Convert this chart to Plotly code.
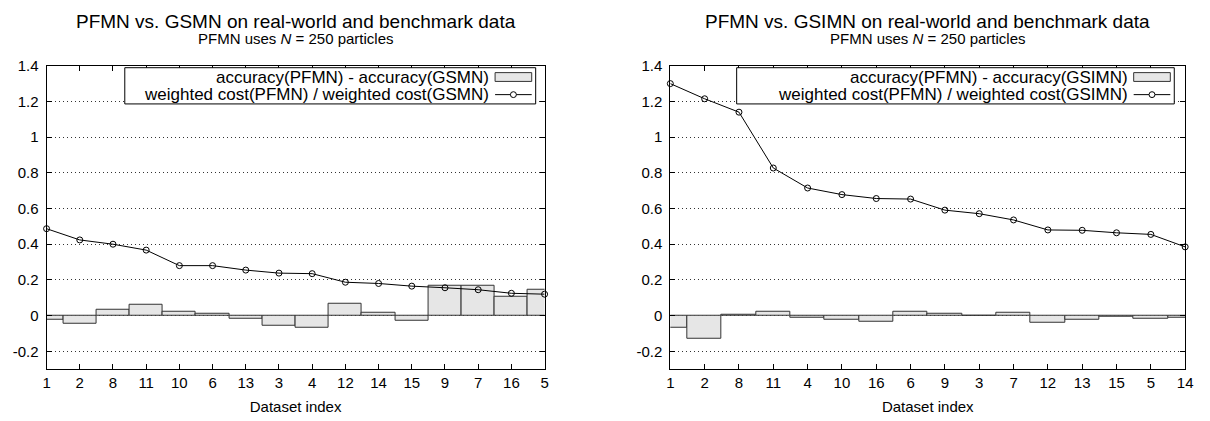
import plotly.graph_objects as go

W, H = 1210, 421

# ---------------- data ----------------
left_labels = ["1", "2", "8", "11", "10", "6", "13", "3", "4", "12", "14", "15", "9", "7", "16", "5"]
left_acc_diff = [-0.024, -0.044, 0.031, 0.060, 0.020, 0.011, -0.016, -0.056, -0.069,
                 0.067, 0.016, -0.027, 0.169, 0.169, 0.104, 0.147]
left_cost_ratio = [0.487, 0.424, 0.400, 0.367, 0.280, 0.280, 0.255, 0.238, 0.235,
                   0.187, 0.180, 0.165, 0.156, 0.145, 0.125, 0.120]

right_labels = ["1", "2", "8", "11", "4", "10", "16", "6", "9", "3", "7", "12", "13", "15", "5", "14"]
right_acc_diff = [-0.067, -0.131, 0.005, 0.022, -0.013, -0.024, -0.033, 0.022, 0.011,
                  -0.003, 0.016, -0.038, -0.024, -0.007, -0.018, -0.013]
right_cost_ratio = [1.300, 1.215, 1.140, 0.827, 0.715, 0.678, 0.656, 0.653, 0.591,
                    0.571, 0.536, 0.480, 0.478, 0.464, 0.455, 0.385]

y_ticks = [-0.2, 0, 0.2, 0.4, 0.6, 0.8, 1.0, 1.2, 1.4]
y_ticktext = ["-0.2", "0", "0.2", "0.4", "0.6", "0.8", "1", "1.2", "1.4"]

titles = ["PFMN vs. GSMN on real-world and benchmark data",
          "PFMN vs. GSIMN on real-world and benchmark data"]
subtitle = "PFMN uses <i>N</i> = 250 particles"
legend_bar = ["accuracy(PFMN) - accuracy(GSMN)", "accuracy(PFMN) - accuracy(GSIMN)"]
legend_line = ["weighted cost(PFMN) / weighted cost(GSMN)",
               "weighted cost(PFMN) / weighted cost(GSIMN)"]

FONT = "Liberation Sans, Arial, Helvetica, sans-serif"
BAR_FILL = "#e6e6e6"
BAR_LINE = "#333333"

# ---------------- layout geometry (pixels) ----------------
PLOT_TOP, PLOT_BOT = 58, 368
panels = [(43, 546), (673, 1193)]


def px(x):
    return x / W


def py(y):
    return 1 - y / H


fig = go.Figure()

datasets = [(left_labels, left_acc_diff, left_cost_ratio),
            (right_labels, right_acc_diff, right_cost_ratio)]

shapes = []
annotations = []

for i, ((labels, acc, cost), (x0, x1)) in enumerate(zip(datasets, panels)):
    xa = "x" if i == 0 else "x2"
    ya = "y" if i == 0 else "y2"
    xs = list(range(len(labels)))
    fig.add_trace(go.Bar(
        x=xs, y=acc, width=1.0, xaxis=xa, yaxis=ya,
        marker=dict(color=BAR_FILL, line=dict(color=BAR_LINE, width=1)),
        showlegend=False, name=legend_bar[i]))
    fig.add_trace(go.Scatter(
        x=xs, y=cost, mode="lines+markers", xaxis=xa, yaxis=ya,
        line=dict(color="black", width=1),
        marker=dict(symbol="circle-open", size=6, color="black", line=dict(width=1)),
        cliponaxis=False, showlegend=False, name=legend_line[i]))

    axkey = "xaxis" if i == 0 else "xaxis2"
    aykey = "yaxis" if i == 0 else "yaxis2"
    fig.layout[axkey] = dict(
        domain=[px(x0), px(x1)], anchor=ya, range=[0, len(labels) - 1],
        tickmode="array", tickvals=xs, ticktext=labels,
        ticks="inside", ticklen=5, tickcolor="black", mirror="ticks",
        showline=True, linecolor="black", linewidth=1, showgrid=False, zeroline=False,
        tickfont=dict(family=FONT, size=15, color="black"),
        title=dict(text="Dataset index", font=dict(family=FONT, size=15, color="black"), standoff=11),
    )
    fig.layout[aykey] = dict(
        domain=[py(PLOT_BOT), py(PLOT_TOP)], anchor=xa, range=[-0.3, 1.4],
        tickmode="array", tickvals=y_ticks, ticktext=y_ticktext,
        ticks="inside", ticklen=5, tickcolor="black", mirror="ticks",
        showline=True, linecolor="black", linewidth=1,
        showgrid=True, gridcolor="#333333", griddash="1px,3px", gridwidth=1, zeroline=False,
        tickfont=dict(family=FONT, size=15, color="black"), ticklabelstandoff=4,
    )

    cx = (x0 + x1) / 2
    annotations.append(dict(x=px(cx), y=py(13), xref="paper", yref="paper", text=titles[i],
                            showarrow=False, xanchor="center", yanchor="middle",
                            font=dict(family=FONT, size=19, color="black")))
    annotations.append(dict(x=px(cx), y=py(30), xref="paper", yref="paper", text=subtitle,
                            showarrow=False, xanchor="center", yanchor="middle",
                            font=dict(family=FONT, size=15, color="black")))

    # legend box (gnuplot style: text right-aligned, sample on the right)
    bx0, bx1 = (122, 537) if i == 0 else (740, 1182)
    by0, by1 = 60, 97
    shapes.append(dict(type="rect", xref="paper", yref="paper",
                       x0=px(bx0), x1=px(bx1), y0=py(by1), y1=py(by0),
                       line=dict(color="black", width=1), fillcolor="white", layer="above"))
    text_r = bx1 - 45
    sx0, sx1 = bx1 - 41, bx1 - 4
    annotations.append(dict(x=px(text_r), y=py(69.5), xref="paper", yref="paper",
                            text=legend_bar[i], showarrow=False, xanchor="right", yanchor="middle",
                            font=dict(family=FONT, size=17, color="black")))
    annotations.append(dict(x=px(text_r), y=py(87.5), xref="paper", yref="paper",
                            text=legend_line[i], showarrow=False, xanchor="right", yanchor="middle",
                            font=dict(family=FONT, size=17, color="black")))
    shapes.append(dict(type="rect", xref="paper", yref="paper",
                       x0=px(sx0), x1=px(sx1), y0=py(74), y1=py(65),
                       line=dict(color=BAR_LINE, width=1), fillcolor=BAR_FILL, layer="above"))
    shapes.append(dict(type="line", xref="paper", yref="paper",
                       x0=px(sx0), x1=px(sx1), y0=py(87.5), y1=py(87.5),
                       line=dict(color="black", width=1), layer="above"))
    mcx = (sx0 + sx1) / 2
    shapes.append(dict(type="circle", xref="paper", yref="paper",
                       x0=px(mcx - 3), x1=px(mcx + 3), y0=py(90.5), y1=py(84.5),
                       line=dict(color="black", width=1), fillcolor="white", layer="above"))

fig.update_layout(
    width=W, height=H, margin=dict(l=0, r=0, t=0, b=0),
    paper_bgcolor="white", plot_bgcolor="white",
    bargap=0, showlegend=False,
    shapes=shapes, annotations=annotations,
    font=dict(family=FONT, color="black"),
)

fig.write_html("out.html")
